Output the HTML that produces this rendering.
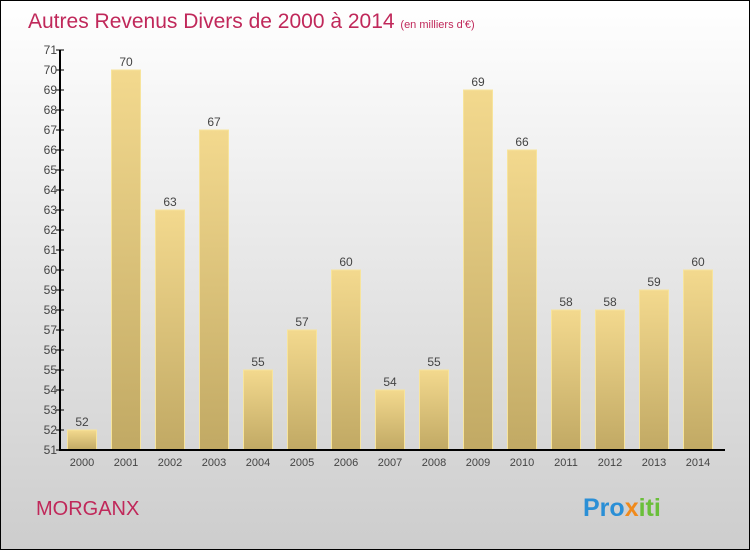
<!DOCTYPE html>
<html><head><meta charset="utf-8"><style>
body{margin:0}
svg text{font-family:"Liberation Sans",sans-serif}
</style></head><body>
<svg width="750" height="550" xmlns="http://www.w3.org/2000/svg">
<defs>
<linearGradient id="bg" x1="0" y1="0" x2="0" y2="1"><stop offset="0" stop-color="#ffffff"/><stop offset="1" stop-color="#cdcdcd"/></linearGradient>
<linearGradient id="bar" x1="0" y1="0" x2="0" y2="1"><stop offset="0" stop-color="#f3d98e"/><stop offset="1" stop-color="#c1a964"/></linearGradient>
</defs>
<rect x="0.5" y="0.5" width="749" height="549" fill="url(#bg)" stroke="#000"/>
<text x="28" y="28" font-size="21" fill="#c0285a">Autres Revenus Divers de 2000 à 2014 <tspan font-size="11">(en milliers d'€)</tspan></text>
<g id="plot"></g>
<text x="36" y="515" font-size="20" fill="#c0285a">MORGANX</text>
<text x="583" y="516" font-size="25" font-weight="bold"><tspan fill="#2a8fd6">Pro</tspan><tspan fill="#f08a1c">x</tspan><tspan fill="#6abf3a">iti</tspan></text>
</svg>
<script>
const years=["2000","2001","2002","2003","2004","2005","2006","2007","2008","2009","2010","2011","2012","2013","2014"];
const values=[52,70,63,67,55,57,60,54,55,69,66,58,58,59,60];
const yTicks=[51,52,53,54,55,56,57,58,59,60,61,62,63,64,65,66,67,68,69,70,71];
const NS="http://www.w3.org/2000/svg";
const g=document.getElementById("plot");
const y=v=>450-(v-51)*20;
const x=i=>67+i*44;
function mk(t,a){const e=document.createElementNS(NS,t);for(const k in a)e.setAttribute(k,a[k]);g.appendChild(e);return e;}
values.forEach((v,i)=>{
 const r=mk("rect",{x:x(i)+0.5,y:y(v),width:29,height:450-y(v),fill:"url(#bar)",stroke:"#f7e49c","stroke-width":1});
 
 
 const t=mk("text",{x:x(i)+15,y:y(v)-4,"font-size":12,fill:"#444","text-anchor":"middle"});t.textContent=v;
 
 
 const xl=mk("text",{x:x(i)+15,y:466,"font-size":11,fill:"#444","text-anchor":"middle"});xl.textContent=years[i];
 
 
});
yTicks.forEach(v=>{
 const l=mk("line",{x1:56,x2:64,y1:y(v),y2:y(v),stroke:"#000"});
 
 
 const t=mk("text",{x:57,y:y(v)+4,"font-size":12,fill:"#444","text-anchor":"end"});t.textContent=v;
 
 
});
const ya=mk("line",{x1:60,x2:60,y1:y(71),y2:451,stroke:"#000","stroke-width":2});


const xa=mk("line",{x1:59,x2:725,y1:450,y2:450,stroke:"#000","stroke-width":2});


</script>
</body></html>
